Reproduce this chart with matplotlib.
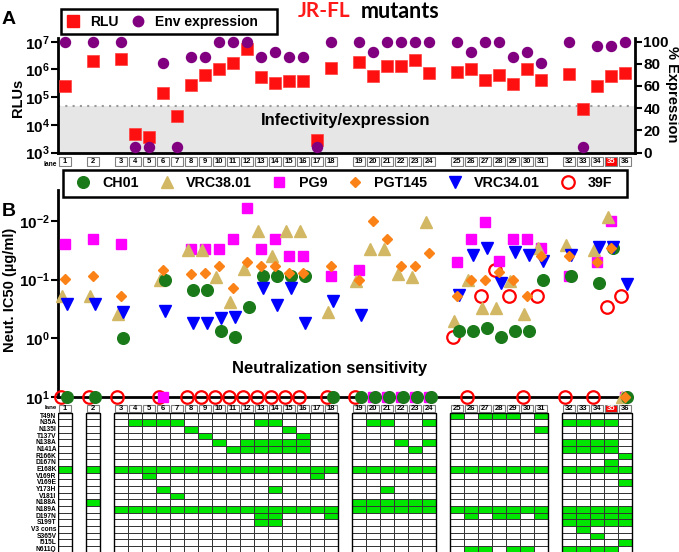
import matplotlib
matplotlib.use('Agg')
import matplotlib.pyplot as plt
import numpy as np
from matplotlib.patches import Rectangle
from matplotlib.lines import Line2D
from matplotlib.ticker import NullLocator

plt.rcParams['font.family'] = ['Liberation Sans', 'DejaVu Sans']
plt.rcParams['font.weight'] = 'bold'
plt.rcParams['mathtext.fontset'] = 'custom'
plt.rcParams['mathtext.rm'] = 'Liberation Sans:bold'
plt.rcParams['mathtext.bf'] = 'Liberation Sans:bold'
plt.rcParams['mathtext.it'] = 'Liberation Sans:bold'

nan = np.nan

# ---------------- data ----------------
lanes = list(range(1, 37))
group_starts = [1, 2, 3, 19, 25, 32]
highlight_lane = 35

rlu = [2.6e5, 2.0e6, 2.3e6, 4.8e3, 3.7e3, 1.4e5, 2.0e4, 2.8e5, 6.2e5, 1.07e6,
       1.7e6, 5.5e6, 5.3e5, 3.1e5, 3.8e5, 3.8e5, 2.8e3, 1.15e6, 1.9e6, 5.7e5,
       1.35e6, 1.35e6, 2.1e6, 7.2e5, 7.9e5, 1.0e6, 4.2e5, 6.5e5, 3.0e5, 1.0e6,
       4.2e5, 7.0e5, 3.8e4, 2.6e5, 6.0e5, 7.2e5]
expression = [100, 100, 100, 5, 5, 81, 5, 86, 86, 100,
              100, 100, 86, 91, 86, 86, 5, 100, 100, 91,
              100, 100, 100, 100, 100, 91, 100, 100, 86, 91,
              81, 100, 5, 96, 96, 100]
rlu_cutoff = 4.8e4

# IC50 (ug/ml); 10 = not neutralized, nan = not tested
ic50_ch01 = [10, 10, 0.98, nan, nan, 0.10, nan, 0.15, 0.15, 0.75,
             0.97, 0.29, 0.087, 0.087, 0.087, 0.087, nan, 10, 10, 10,
             10, 10, 10, 10, 0.76, 0.76, 0.68, 0.96, 0.76, 0.76,
             0.10, 0.087, nan, 0.115, 0.029, 10]
ic50_vrc38 = [0.19, 0.19, 0.38, nan, nan, 0.10, nan, 0.031, 0.031, 0.09,
              0.24, 0.065, 0.015, 0.04, 0.015, 0.015, nan, 0.36, 0.105, 0.03,
              0.03, 0.08, 0.09, 0.0102, 0.51, 0.10, 0.30, 0.30, 0.105, 0.38,
              0.029, 0.026, nan, 0.031, 0.0085, 10]
ic50_pg9 = [0.025, 0.02, 0.025, nan, nan, 10, nan, 0.03, 0.03, 0.03,
            0.02, 0.006, 0.03, 0.02, 0.04, 0.04, nan, 0.087, 0.069, 10,
            10, 10, 10, 10, 0.05, 0.02, 0.0103, 0.048, 0.02, 0.02,
            0.029, 0.087, nan, 0.05, 0.01, 10]
ic50_pgt145 = [0.098, 0.087, 0.19, nan, nan, 0.068, nan, 0.08, 0.078, 0.059,
               0.14, 0.05, 0.059, 0.059, 0.078, 0.078, nan, 0.059, 0.10, 0.01,
               0.02, 0.059, 0.059, 0.035, 0.19, 0.10, 0.10, 0.075, 0.10, 0.19,
               0.04, 0.04, nan, 0.05, 0.029, 10]
ic50_vrc34 = [0.26, 0.26, 0.36, nan, nan, 0.35, nan, 0.56, 0.56, 0.45,
              0.43, nan, 0.14, 0.27, 0.14, 0.56, nan, 0.23, 0.40, nan,
              nan, nan, nan, nan, 0.18, 0.038, 0.029, 0.115, 0.034, 0.038,
              0.048, 0.038, nan, 0.028, 0.028, 0.12]
ic50_39f = [10, 10, 10, nan, nan, 10, nan, 10, 10, 10,
            10, 10, 10, 10, 10, 10, nan, 10, 10, nan,
            nan, nan, nan, nan, 0.96, 10, 0.19, 0.069, 0.19, 10,
            0.19, 10, nan, 10, 0.29, 0.19]

mutations = ["T49N", "N35A", "N135I", "T137V", "N138A", "N141A", "R166K", "D167N",
             "E168K", "V169R", "V169E", "Y173H", "V181I", "N188A", "N189A", "D197N",
             "S199T", "V3 cons", "S365V", "I515L", "N611Q"]
mutant_lanes = {
    "T49N": [25, 27, 28, 29, 31],
    "N35A": [4, 5, 6, 7, 13, 14, 20, 21, 24, 32, 33, 34, 35],
    "N135I": [8, 15, 31],
    "T137V": [9, 16],
    "N138A": [10, 12, 13, 14, 15, 16, 22, 24, 32, 33, 34, 35],
    "N141A": [11, 12, 13, 14, 15, 16, 23, 32, 33, 34, 35],
    "R166K": [36],
    "D167N": [35],
    "E168K": lanes,
    "V169R": [5, 17],
    "V169E": [36],
    "Y173H": [6, 14, 21],
    "V181I": [7],
    "N188A": [2, 19, 20, 21, 22, 23, 24],
    "N189A": lanes[2:],
    "D197N": [13, 14, 18, 26, 28, 29, 31, 32, 33, 34, 35, 36],
    "S199T": [13, 14, 32, 33, 34, 35, 36],
    "V3 cons": [33],
    "S365V": [34],
    "I515L": [36],
    "N611Q": [26, 27, 29, 30, 32, 33, 34, 35],
}

# ---------------- layout helpers ----------------
W, H = 679, 552
def box(l, t, r, b):
    return [l / W, 1 - b / H, (r - l) / W, (b - t) / H]

def pt(px, py):
    return (px / W, 1 - py / H)

def lane_pos(lane):
    return lane - 1 + sum(1 for s in group_starts if s <= lane) - 1

x = np.array([lane_pos(l) for l in lanes], float)
XLIM = (-0.5, 40.7)

fig = plt.figure(figsize=(W / 100, H / 100), dpi=100)

def sup_labels(vals):
    return [r'$\mathbf{10^{%d}}$' % v for v in vals]

def frame_box(l, t, r, b):
    fig.patches.append(Rectangle(pt(l, b), (r - l) / W, (b - t) / H, fc='white',
                                 ec='black', lw=1.8, transform=fig.transFigure,
                                 figure=fig, zorder=0))

# ---------------- panel A ----------------
axA = fig.add_axes(box(58, 38, 635, 152.5))
axA.set_xlim(XLIM)
axA.set_yscale('log')
axA.set_ylim(1e3, 10 ** 7.134)
axA.fill_between(XLIM, 1e3, rlu_cutoff, color='#e6e6e6', zorder=0, lw=0)
axA.axhline(rlu_cutoff, color='#999999', ls=(0, (1, 2.5)), lw=1.5, zorder=1)
axA.plot(x, rlu, 's', color='#ff1010', ms=8.5, mec='#ff4040', mew=0.5,
         clip_on=False, zorder=3)
axA.set_yticks([1e3, 1e4, 1e5, 1e6, 1e7])
axA.set_yticklabels(sup_labels([3, 4, 5, 6, 7]))
axA.yaxis.set_minor_locator(NullLocator())
axA.set_xticks([])
axA.tick_params(axis='y', direction='out', length=5, width=1.5, labelsize=11, pad=1)
axA.spines['top'].set_visible(False)
axA.spines['right'].set_visible(False)
for s in ['left', 'bottom']:
    axA.spines[s].set_linewidth(2)

axA2 = axA.twinx()
axA2.set_ylim(0, 103.3)
axA2.plot(x, expression, 'o', color='#800080', ms=7.2, clip_on=False, zorder=4)
axA2.set_yticks(range(0, 101, 20))
axA2.tick_params(axis='y', direction='out', length=5, width=1.5, labelsize=11, pad=1)
for s in ['left', 'top', 'bottom']:
    axA2.spines[s].set_visible(False)
axA2.spines['right'].set_linewidth(2)

fig.text(*pt(346, 120), 'Infectivity/expression', ha='center', va='center',
         fontsize=12, fontweight='bold')
fig.text(*pt(18, 98), 'RLUs', rotation=90, ha='center', va='center',
         fontsize=10.5, fontweight='bold')
fig.text(*pt(672, 94), '% Expression', rotation=270, ha='center', va='center',
         fontsize=10.5, fontweight='bold')
fig.text(*pt(2, 20), 'A', ha='left', va='center', fontsize=14, fontweight='bold')
fig.text(*pt(350, 11), 'JR-FL', ha='right', va='center', fontsize=15,
         fontweight='bold', color='#ff1a1a', family='Lato')
fig.text(*pt(361, 11), 'mutants', ha='left', va='center', fontsize=15.5,
         fontweight='bold', color='black', family='Lato')

frame_box(60.5, 8.5, 276.5, 33.5)
legA = fig.legend(
    handles=[Line2D([], [], ls='none', marker='s', ms=9, color='#ff1010'),
             Line2D([], [], ls='none', marker='o', ms=7.5, color='#800080')],
    labels=['RLU', 'Env expression'], ncol=2, loc='center left',
    bbox_to_anchor=pt(64.4, 22), frameon=False, fontsize=10,
    handletextpad=0.6, columnspacing=0.75, borderpad=0, handlelength=1.25,
    borderaxespad=0)


def lane_header(ax, h, text_size):
    for lane, xp in zip(lanes, x):
        fc = '#ff0000' if lane == highlight_lane else 'white'
        tc = 'white' if lane == highlight_lane else 'black'
        ax.add_patch(Rectangle((xp - 0.45, 0.08 * h), 0.9, 0.84 * h, fc=fc,
                               ec='#808080', lw=0.8))
        ax.text(xp, 0.5 * h, str(lane), ha='center', va='center',
                fontsize=text_size, color=tc, fontweight='bold')


axL = fig.add_axes(box(58, 156.5, 635, 166.5))
axL.set_xlim(XLIM)
axL.set_ylim(1, 0)
axL.axis('off')
lane_header(axL, 1, 5.5)
fig.text(*pt(57, 165), 'lane', ha='right', va='center', fontsize=4.8,
         fontweight='bold')

# ---------------- panel B ----------------
axB = fig.add_axes(box(58, 190, 635, 396.7))
axB.set_xlim(XLIM)
axB.set_yscale('log')
axB.set_ylim(10, 10 ** -2.53)
axB.set_yticks([1e-2, 1e-1, 1, 10])
axB.set_yticklabels(sup_labels([-2, -1, 0, 1]))
axB.yaxis.set_minor_locator(NullLocator())
axB.set_xticks([])
axB.tick_params(axis='y', direction='out', length=5, width=1.5, labelsize=11, pad=1)
axB.spines['top'].set_visible(False)
axB.spines['right'].set_visible(False)
for s in ['left', 'bottom']:
    axB.spines[s].set_linewidth(2)
axB.spines['bottom'].set_bounds(-0.5, 40.4)

series = [
    # name, values, marker style, x offset, zorder
    ("39F", ic50_39f, dict(marker='o', ms=9, mfc='none', mec='#ff0000', mew=1.6), -0.3, 3),
    ("PG9", ic50_pg9, dict(marker='s', ms=7.4, color='#ff00ff'), 0.0, 4),
    ("VRC38.01", ic50_vrc38, dict(marker='^', ms=8.3, color='#d2b864'), -0.25, 5),
    ("CH01", ic50_ch01, dict(marker='o', ms=8.4, color='#1a7a1a'), 0.15, 6),
    ("VRC34.01", ic50_vrc34, dict(marker='v', ms=8.3, color='#0000ff'), 0.15, 7),
    ("PGT145", ic50_pgt145, dict(marker='D', ms=5.6, color='#fb8217'), 0.0, 8),
]
handles = {}
for name, vals, style, off, z in series:
    axB.plot(x + off, vals, ls='none', clip_on=False, zorder=z, **style)
    handles[name] = Line2D([], [], ls='none', **style)

fig.text(*pt(10, 290), 'Neut. IC50 (µg/ml)', rotation=90, ha='center',
         va='center', fontsize=10.5, fontweight='bold')
fig.text(*pt(330, 368), 'Neutralization sensitivity', ha='center', va='center',
         fontsize=12, fontweight='bold')
fig.text(*pt(2, 212), 'B', ha='left', va='center', fontsize=14, fontweight='bold')

frame_box(62.5, 170, 627, 196.5)
leg_order = ["CH01", "VRC38.01", "PG9", "PGT145", "VRC34.01", "39F"]
legB = fig.legend(handles=[handles[n] for n in leg_order], labels=leg_order, ncol=6,
                  loc='center left', bbox_to_anchor=pt(74.4, 183.3), frameon=False,
                  fontsize=10.3, handletextpad=0.73, columnspacing=1.36,
                  borderpad=0, handlelength=1.2, borderaxespad=0)

# ---------------- mutation table ----------------
hdr = 1.3
axT = fig.add_axes(box(58, 404, 635, 552.5))
axT.set_xlim(XLIM)
axT.set_ylim(hdr + len(mutations), 0)
axT.axis('off')
lane_header(axT, hdr, 5.5)
axT.text(-0.6, hdr * 0.42, 'lane', ha='right', va='center', fontsize=4.4,
         fontweight='bold')
for i, m in enumerate(mutations):
    yy = hdr + i
    axT.text(-0.6, yy + 0.55, m, ha='right', va='center', fontsize=4.8, fontweight='bold')
    for lane, xp in zip(lanes, x):
        fc = '#00e600' if lane in mutant_lanes[m] else 'white'
        axT.add_patch(Rectangle((xp - 0.5, yy), 1, 1, fc=fc, ec='#333333', lw=0.7))

# group outlines
for gi, g0 in enumerate(group_starts):
    g1 = group_starts[gi + 1] - 1 if gi + 1 < len(group_starts) else lanes[-1]
    x0 = lane_pos(g0) - 0.5
    x1 = lane_pos(g1) + 0.5
    axT.add_patch(Rectangle((x0, hdr), x1 - x0, len(mutations), fc='none',
                            ec='black', lw=1.0))

fig.savefig('out.png', dpi=100)
